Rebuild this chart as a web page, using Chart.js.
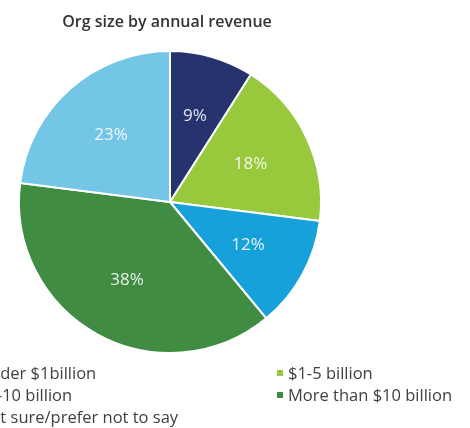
<!DOCTYPE html>
<html>
<head>
<meta charset="utf-8">
<script src="https://cdn.jsdelivr.net/npm/chart.js@4"></script>
<style>
html,body{margin:0;padding:0;background:#fff;}
#wrap{position:relative;width:470px;height:428px;}
</style>
</head>
<body>
<div id="wrap"><canvas id="c" width="470" height="428"></canvas></div>
<script>
const chartTitle = 'Org size by annual revenue';
const categories = ['Under $1billion', '$1-5 billion', '$5-10 billion', 'More than $10 billion', 'Not sure/prefer not to say'];
const values = [9, 18, 12, 38, 23];
const colors = ['#27336f', '#98c93c', '#17a1db', '#418c43', '#74c6e6'];

const FONT = "'Open Sans', 'Noto Sans', sans-serif";

const overlay = {
  id: 'overlay',
  afterDatasetsDraw(chart) {
    const ctx = chart.ctx;
    const meta = chart.getDatasetMeta(0);
    ctx.save();
    // slice labels
    ctx.font = '17px ' + FONT;
    ctx.fillStyle = 'rgba(255,255,255,0.88)';
    ctx.textAlign = 'center';
    ctx.textBaseline = 'middle';
    meta.data.forEach((arc, i) => {
      const p = arc.getProps(['x','y','startAngle','endAngle','outerRadius'], true);
      const mid = (p.startAngle + p.endAngle) / 2;
      const r = p.outerRadius * 0.59;
      ctx.fillText(values[i] + '%', p.x + Math.cos(mid) * r, p.y + Math.sin(mid) * r);
    });
    // title
    ctx.font = '600 16px ' + FONT;
    ctx.fillStyle = '#333333';
    ctx.fillText(chartTitle, 167, 22);
    // legend (two columns, clipped on left like the reference)
    ctx.font = '16.5px ' + FONT;
    ctx.textAlign = 'left';
    const colX = [-33, 277];
    const rowY = [373, 395, 417];
    categories.forEach((name, i) => {
      const x = colX[i % 2];
      const y = rowY[Math.floor(i / 2)];
      ctx.fillStyle = colors[i];
      ctx.fillRect(x, y - 3, 6, 6);
      ctx.fillStyle = '#404040';
      ctx.fillText(name, x + 11, y + 1);
    });
    ctx.restore();
  }
};

new Chart(document.getElementById('c'), {
  type: 'pie',
  data: {
    labels: categories,
    datasets: [{
      data: values,
      backgroundColor: colors,
      borderColor: '#ffffff',
      borderWidth: 2
    }]
  },
  options: {
    responsive: false,
    animation: false,
    layout: { padding: { left: 18, right: 148, top: 50, bottom: 74 } },
    plugins: {
      legend: { display: false },
      title: { display: false },
      tooltip: { enabled: false }
    }
  },
  plugins: [overlay]
});
</script>
</body>
</html>
